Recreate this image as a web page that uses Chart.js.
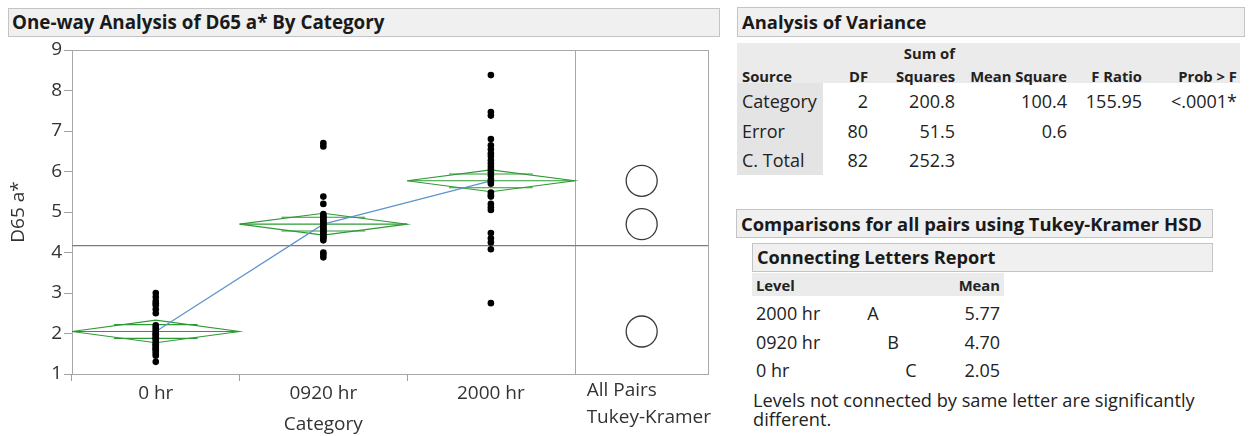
<!DOCTYPE html>
<html>
<head>
<meta charset="utf-8">
<script src="https://cdn.jsdelivr.net/npm/chart.js@4.4.1/dist/chart.umd.min.js"></script>
<style>
  html, body { margin: 0; padding: 0; background: #fff; }
  body { width: 1253px; height: 436px; position: relative; overflow: hidden; font-family: 'Open Sans', 'Noto Sans', sans-serif; color: #222; }
  .box { position: absolute; background: #f0f0f0; border: 1px solid #c4c4c4; box-sizing: border-box; font-weight: 700; color: #1a1a1a; white-space: nowrap; }
  .bg { position: absolute; }
  .t { position: absolute; white-space: nowrap; line-height: 20px; height: 20px; }
  #chart { position: absolute; left: 0; top: 0; }
</style>
</head>
<body>
<div class="box" style="left:8px;top:8px;width:712px;height:29px;font-size:18.8px;line-height:27px;padding-left:3px;">One-way Analysis of D65 a* By Category</div>
<canvas id="chart" width="725" height="436"></canvas>
<div id="right"></div>
<script>
// ---------------- data ----------------
const categories = ['0 hr', '0920 hr', '2000 hr'];
const values0hr = [3.0, 2.9, 2.8, 2.75, 2.7, 2.6, 2.5, 2.2, 2.15, 2.1, 2.05, 2.0, 1.98, 1.95, 1.9, 1.88, 1.85, 1.8, 1.75, 1.72, 1.7, 1.65, 1.62, 1.6, 1.55, 1.5, 1.45, 1.3];
const values0920hr = [6.7, 6.62, 5.38, 5.2, 4.95, 4.9, 4.88, 4.85, 4.8, 4.78, 4.75, 4.7, 4.68, 4.65, 4.6, 4.58, 4.55, 4.5, 4.48, 4.45, 4.4, 4.38, 4.35, 4.3, 4.0, 3.95, 3.88];
const values2000hr = [8.38, 7.47, 7.38, 6.8, 6.65, 6.55, 6.45, 6.38, 6.28, 6.2, 6.12, 6.05, 5.98, 5.9, 5.8, 5.75, 5.7, 5.48, 5.42, 5.38, 5.2, 5.12, 5.05, 4.48, 4.35, 4.25, 4.08, 2.75];
const groupValues = [values0hr, values0920hr, values2000hr];
const groupMeans = [2.05, 4.70, 5.77];
const ciHalf = [0.28, 0.27, 0.27];
const overlapHalf = [0.17, 0.17, 0.17];
const grandMean = 4.17;
const yTicks = [1, 2, 3, 4, 5, 6, 7, 8, 9];
const tukeyCircleY = [5.77, 4.70, 2.05];

const anovaHeader1 = ['', '', 'Sum of', '', '', ''];
const anovaHeader2 = ['Source', 'DF', 'Squares', 'Mean Square', 'F Ratio', 'Prob > F'];
const anovaSource = ['Category', 'Error', 'C. Total'];
const anovaDF = ['2', '80', '82'];
const anovaSS = ['200.8', '51.5', '252.3'];
const anovaMS = ['100.4', '0.6', ''];
const anovaF = ['155.95', '', ''];
const anovaP = ['<.0001*', '', ''];

const letterLevels = ['2000 hr', '0920 hr', '0 hr'];
const letterCodes = ['A', 'B', 'C'];
const letterMeans = ['5.77', '4.70', '2.05'];

// ---------------- chart ----------------
const X_MAX = 3.797;
const catPos = categories.map((c, i) => i + 0.5);
const tukeyX = 3.4;
const green = '#2f9a35';

Chart.defaults.font.family = "'Open Sans', 'Noto Sans', sans-serif";

const datasets = [];
// individual observations
const pts = [];
groupValues.forEach((arr, i) => arr.forEach(v => pts.push({x: catPos[i], y: v})));
datasets.push({ type: 'scatter', data: pts, pointRadius: 3.3, pointHoverRadius: 3.3, backgroundColor: '#000', borderColor: '#000', borderWidth: 0, order: 0 });
// means line
datasets.push({ type: 'scatter', showLine: true, data: groupMeans.map((m, i) => ({x: catPos[i], y: m})), borderColor: '#5f93cc', borderWidth: 1.2, pointRadius: 0, order: 1 });
// means diamonds
groupMeans.forEach((m, i) => {
  const seg = (data) => datasets.push({ type: 'scatter', showLine: true, data, borderColor: green, borderWidth: 1.1, pointRadius: 0, order: 2 });
  seg([{x: i, y: m}, {x: catPos[i], y: m + ciHalf[i]}, {x: i + 1, y: m}, {x: catPos[i], y: m - ciHalf[i]}, {x: i, y: m}]);
  seg([{x: i, y: m}, {x: i + 1, y: m}]);
  seg([{x: i + 0.25, y: m + overlapHalf[i]}, {x: i + 0.75, y: m + overlapHalf[i]}]);
  seg([{x: i + 0.25, y: m - overlapHalf[i]}, {x: i + 0.75, y: m - overlapHalf[i]}]);
});
// grand mean
datasets.push({ type: 'scatter', showLine: true, data: [{x: 0, y: grandMean}, {x: X_MAX, y: grandMean}], borderColor: '#7d7d7d', borderWidth: 1.4, pointRadius: 0, order: 3 });
// comparison circles
datasets.push({ type: 'scatter', data: tukeyCircleY.map(y => ({x: tukeyX, y})), pointRadius: 15.5, pointHoverRadius: 15.5, backgroundColor: 'rgba(0,0,0,0)', borderColor: '#3a3a3a', borderWidth: 1.3, order: 0 });

const framePlugin = {
  id: 'frame',
  beforeDatasetsDraw(chart) {
    const {ctx, chartArea: a, scales: {x, y}} = chart;
    ctx.save();
    ctx.strokeStyle = '#a8a8a8';
    ctx.lineWidth = 1;
    ctx.strokeRect(Math.round(a.left) + 0.5, Math.round(a.top) + 0.5, Math.round(a.right - a.left), Math.round(a.bottom - a.top));
    const xd = Math.round(x.getPixelForValue(3)) + 0.5;
    ctx.beginPath(); ctx.moveTo(xd, a.top); ctx.lineTo(xd, a.bottom); ctx.stroke();
    ctx.restore();
  },
  afterDraw(chart) {
    const {ctx, chartArea: a, scales: {x}} = chart;
    ctx.save();
    ctx.fillStyle = '#333';
    ctx.font = "19px 'Open Sans', 'Noto Sans', sans-serif";
    ctx.textBaseline = 'middle';
    ctx.textAlign = 'center';
    ctx.fillText('Category', (x.getPixelForValue(0) + x.getPixelForValue(3)) / 2, 425);
    ctx.textAlign = 'left';
    const lx = x.getPixelForValue(3) + 12;
    ctx.fillText('All Pairs', lx, 391);
    ctx.fillText('Tukey-Kramer', lx, 418);
    ctx.restore();
  }
};

new Chart(document.getElementById('chart'), {
  type: 'scatter',
  data: { datasets },
  options: {
    responsive: false,
    animation: false,
    events: [],
    layout: { padding: { left: 0, top: 50, right: 10, bottom: 0 } },
    plugins: { legend: { display: false }, tooltip: { enabled: false } },
    scales: {
      x: {
        type: 'linear', min: 0, max: X_MAX,
        afterBuildTicks: (s) => { s.ticks = catPos.map(v => ({value: v})); },
        afterFit: (s) => { s.height = 62; },
        ticks: { callback: (v, i) => categories[i], font: { size: 19 }, color: '#333', padding: 1, maxRotation: 0, autoSkip: false },
        grid: { offset: true, drawOnChartArea: false, tickLength: 7, tickColor: (c) => c.index === undefined ? 'rgba(0,0,0,0)' : '#a0a0a0' },
        border: { color: '#a8a8a8' }
      },
      y: {
        type: 'linear', min: 1, max: 9,
        afterBuildTicks: (s) => { s.ticks = yTicks.map(v => ({value: v})); },
        afterFit: (s) => { s.width = 72; },
        ticks: { font: { size: 19 }, color: '#333', padding: 2 },
        grid: { drawOnChartArea: false, tickLength: 8, tickColor: '#a0a0a0' },
        border: { color: '#a8a8a8' },
        title: { display: true, text: 'D65 a*', font: { size: 19 }, color: '#333', padding: { top: 7, bottom: 0 } }
      }
    }
  },
  plugins: [framePlugin]
});

// ---------------- right-side report ----------------
const R = document.getElementById('right');
function el(cls, style, text) {
  const d = document.createElement('div');
  d.className = cls;
  d.setAttribute('style', style);
  if (text !== undefined) d.textContent = text;
  R.appendChild(d);
  return d;
}
function txt(s, x, yc, align, size, bold) {
  if (!s) return;
  let st = `top:${yc - 10}px;font-size:${size}px;${bold ? 'font-weight:700;' : ''}`;
  if (align === 'right') st += `right:${1253 - x}px;text-align:right;`;
  else if (align === 'center') st += `left:${x - 30}px;width:60px;text-align:center;`;
  else st += `left:${x}px;`;
  el('t', st, s);
}

el('box', 'left:737px;top:7px;width:508px;height:30px;font-size:18.4px;line-height:28px;padding-left:4px;', 'Analysis of Variance');
el('bg', 'left:737px;top:43px;width:503px;height:40px;background:#ebebeb;');
el('bg', 'left:737px;top:83px;width:86px;height:92px;background:#e4e4e4;');
const colRight = [null, 868, 955, 1067, 1142, 1237];
anovaHeader1.forEach((h, c) => { if (c > 0) txt(h, colRight[c], 53, 'right', 14.8, true); });
anovaHeader2.forEach((h, c) => { if (c === 0) txt(h, 742, 76, 'left', 14.8, true); else txt(h, colRight[c], 76, 'right', 14.8, true); });
const rowY = [101, 131, 160];
anovaSource.forEach((s, r) => {
  txt(s, 742, rowY[r], 'left', 18, false);
  txt(anovaDF[r], colRight[1], rowY[r], 'right', 18, false);
  txt(anovaSS[r], colRight[2], rowY[r], 'right', 18, false);
  txt(anovaMS[r], colRight[3], rowY[r], 'right', 18, false);
  txt(anovaF[r], colRight[4], rowY[r], 'right', 18, false);
  txt(anovaP[r], colRight[5], rowY[r], 'right', 18, false);
});

el('box', 'left:736px;top:209px;width:477px;height:29px;font-size:18.4px;line-height:27px;padding-left:4px;', 'Comparisons for all pairs using Tukey-Kramer HSD');
el('box', 'left:752px;top:243px;width:461px;height:29px;font-size:18.2px;line-height:27px;padding-left:4px;', 'Connecting Letters Report');
el('bg', 'left:752px;top:273px;width:252px;height:23px;background:#ebebeb;');
txt('Level', 756, 285, 'left', 14.8, true);
txt('Mean', 1000, 285, 'right', 14.8, true);
const letterX = [873, 893, 911];
const lRowY = [313, 342, 370];
letterLevels.forEach((lv, r) => {
  txt(lv, 756, lRowY[r], 'left', 18, false);
  txt(letterCodes[r], letterX[r], lRowY[r], 'center', 18, false);
  txt(letterMeans[r], 1000, lRowY[r], 'right', 18, false);
});
txt('Levels not connected by same letter are significantly', 753, 400, 'left', 18.2, false);
txt('different.', 753, 419, 'left', 18.2, false);
</script>
</body>
</html>
